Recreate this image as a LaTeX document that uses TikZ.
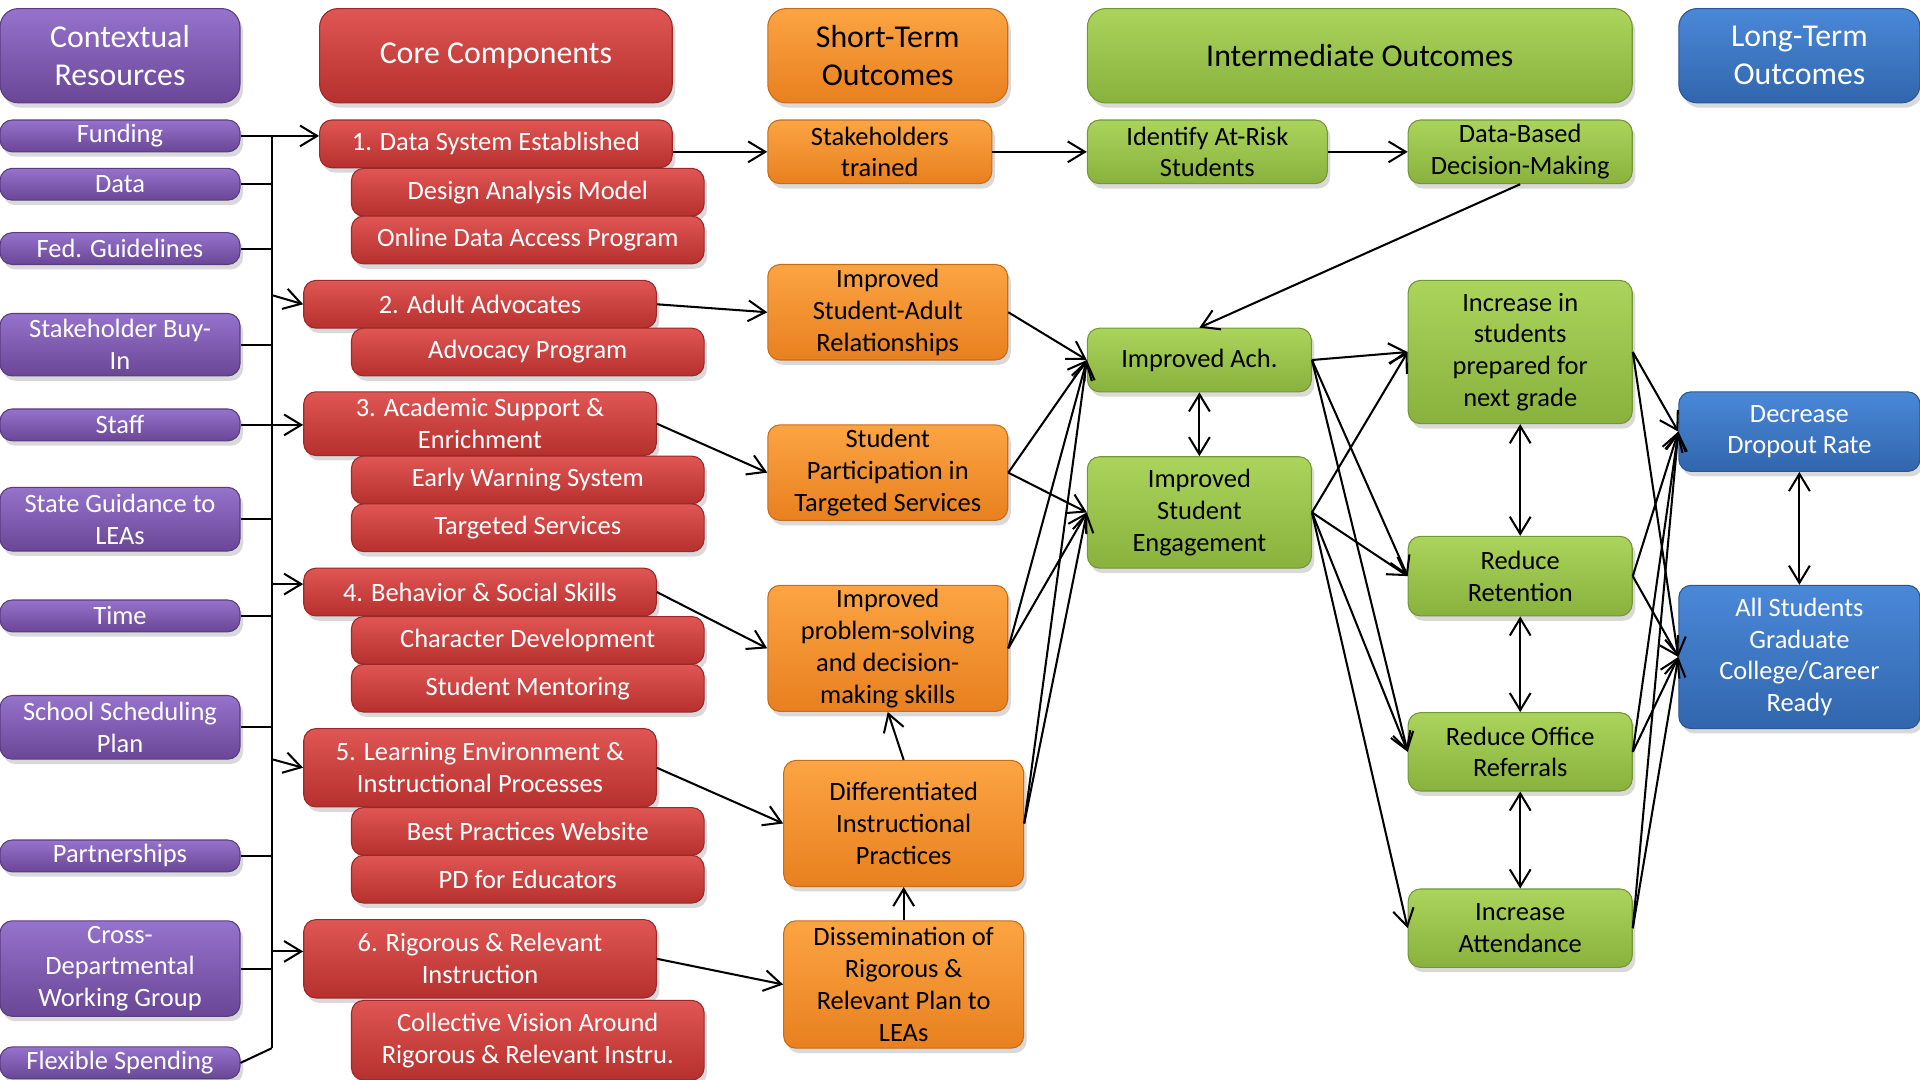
\documentclass[tikz,border=0pt]{standalone}
\usepackage{fontspec}
\setmainfont{Carlito}
\usetikzlibrary{arrows.meta}
\usetikzlibrary{shadows}
\usetikzlibrary{calc}

\definecolor{resTop}{HTML}{9673CC}
\definecolor{resBot}{HTML}{6A4696}
\definecolor{resEdge}{HTML}{5A3C80}
\definecolor{coreTop}{HTML}{E05654}
\definecolor{coreBot}{HTML}{B5302E}
\definecolor{coreEdge}{HTML}{9A2928}
\definecolor{shortTop}{HTML}{FCA443}
\definecolor{shortBot}{HTML}{E8801F}
\definecolor{shortEdge}{HTML}{C66C1A}
\definecolor{midTop}{HTML}{ABD45C}
\definecolor{midBot}{HTML}{88B23D}
\definecolor{midEdge}{HTML}{739637}
\definecolor{longTop}{HTML}{4A88D8}
\definecolor{longBot}{HTML}{3166AD}
\definecolor{longEdge}{HTML}{2A5794}

\tikzset{
    card/.style={rounded corners=0.2cm, inner sep=0pt, align=center, line width=0.5pt,
        font=\fontsize{12.3}{14.8}\selectfont,
        drop shadow={shadow xshift=0.05cm, shadow yshift=-0.08cm, opacity=0.3}},
    head/.style={minimum height=1.54cm, rounded corners=0.3cm,
        font=\fontsize{14.8}{17.6}\selectfont},
    resbox/.style={card, draw=resEdge, top color=resTop, bottom color=resBot,
        text=white, minimum width=3.92cm},
    corebox/.style={card, draw=coreEdge, top color=coreTop, bottom color=coreBot,
        text=white, minimum width=5.76cm},
    shortbox/.style={card, draw=shortEdge, top color=shortTop, bottom color=shortBot,
        minimum width=3.92cm},
    midbox/.style={card, draw=midEdge, top color=midTop, bottom color=midBot,
        minimum width=3.66cm},
    longbox/.style={card, draw=longEdge, top color=longTop, bottom color=longBot,
        text=white, minimum width=3.94cm},
}

\begin{document}
\begin{tikzpicture}[x=0.02cm, y=-0.02cm, line width=0.95pt,
    >={Straight Barb[length=0.28cm, width=0.34cm]}]
    \useasboundingbox (0,0) rectangle (1568,882);

    % Headers
    \node[resbox, head] (ctx) at (98,45.5) {Contextual\\Resources};
    \node[corebox, head] (core) at (405,45.5) {Core Components};
    \node[shortbox, head] (sth) at (725,45.5) {Short-Term\\Outcomes};
    \node[midbox, head, minimum width=8.9cm] (ith) at (1110.5,45.5) {Intermediate Outcomes};
    \node[longbox, head] (lth) at (1469.5,45.5) {Long-Term\\Outcomes};

    % Contextual resources
    \node[resbox, minimum height=0.52cm] (fund) at (98,111) {Funding};
    \node[resbox, minimum height=0.52cm] (data) at (98,150.5) {Data};
    \node[resbox, minimum height=0.52cm] (fed) at (98,203) {Fed. Guidelines};
    \node[resbox, minimum height=1.02cm] (buy) at (98,281.5) {Stakeholder Buy-\\In};
    \node[resbox, minimum height=0.52cm] (staff) at (98,347) {Staff};
    \node[resbox, minimum height=1.04cm] (sg) at (98,424) {State Guidance to\\LEAs};
    \node[resbox, minimum height=0.52cm] (time) at (98,503) {Time};
    \node[resbox, minimum height=1.04cm] (ssp) at (98,594) {School Scheduling\\Plan};
    \node[resbox, minimum height=0.52cm] (part) at (98,699) {Partnerships};
    \node[resbox, minimum height=1.56cm] (cdw) at (98,791) {Cross-\\Departmental\\Working Group};
    \node[resbox, minimum height=0.52cm] (flex) at (98,868) {Flexible Spending};

    % Core components
    \node[corebox, minimum height=0.78cm] (d1) at (405,117.5) {1. Data System Established};
    \node[corebox, minimum height=0.78cm] (dam) at (431,157) {Design Analysis Model};
    \node[corebox, minimum height=0.78cm] (odap) at (431,196) {Online Data Access Program};
    \node[corebox, minimum height=0.78cm] (c2) at (392,248.5) {2. Adult Advocates};
    \node[corebox, minimum height=0.78cm] (adv) at (431,287.5) {Advocacy Program};
    \node[corebox, minimum height=1.04cm] (c3) at (392,346) {3. Academic Support \&\\Enrichment};
    \node[corebox, minimum height=0.78cm] (ews) at (431,392) {Early Warning System};
    \node[corebox, minimum height=0.78cm] (tsv) at (431,431) {Targeted Services};
    \node[corebox, minimum height=0.78cm] (c4) at (392,483.5) {4. Behavior \& Social Skills};
    \node[corebox, minimum height=0.78cm] (chd) at (431,523) {Character Development};
    \node[corebox, minimum height=0.78cm] (smt) at (431,562) {Student Mentoring};
    \node[corebox, minimum height=1.28cm] (c5) at (392,627) {5. Learning Environment \&\\Instructional Processes};
    \node[corebox, minimum height=0.78cm] (bpw) at (431,679) {Best Practices Website};
    \node[corebox, minimum height=0.78cm] (pde) at (431,718) {PD for Educators};
    \node[corebox, minimum height=1.28cm] (c6) at (392,783) {6. Rigorous \& Relevant\\Instruction};
    \node[corebox, minimum height=1.30cm] (cva) at (431,849.5) {Collective Vision Around\\Rigorous \& Relevant Instru.};

    % Short-term outcomes
    \node[shortbox, minimum width=3.66cm, minimum height=1.04cm] (st) at (718.5,124) {Stakeholders\\trained};
    \node[shortbox, minimum height=1.56cm] (sar) at (725,255) {Improved\\Student-Adult\\Relationships};
    \node[shortbox, minimum height=1.56cm] (spt) at (725,386) {Student\\Participation in\\Targeted Services};
    \node[shortbox, minimum height=2.06cm] (ps) at (725,529.5) {Improved\\problem-solving\\and decision-\\making skills};
    \node[shortbox, minimum height=2.06cm] (dip) at (738,672.5) {Differentiated\\Instructional\\Practices};
    \node[shortbox, minimum height=2.08cm] (dis) at (738,804) {Dissemination of\\Rigorous \&\\Relevant Plan to\\LEAs};

    % Intermediate outcomes
    \node[midbox, minimum width=3.92cm, minimum height=1.04cm] (ide) at (986,124) {Identify At-Risk\\Students};
    \node[midbox, minimum height=1.04cm] (dbd) at (1241.5,124) {Data-Based\\Decision-Making};
    \node[midbox, minimum height=1.04cm] (ach) at (979.5,294) {Improved Ach.};
    \node[midbox, minimum height=1.82cm] (eng) at (979.5,418.5) {Improved\\Student\\Engagement};
    \node[midbox, minimum height=2.34cm] (inc) at (1241.5,287.5) {Increase in\\students\\prepared for\\next grade};
    \node[midbox, minimum height=1.30cm] (ret) at (1241.5,470.5) {Reduce\\Retention};
    \node[midbox, minimum height=1.28cm] (ror) at (1241.5,614) {Reduce Office\\Referrals};
    \node[midbox, minimum height=1.28cm] (att) at (1241.5,758) {Increase\\Attendance};

    % Long-term outcomes
    \node[longbox, minimum height=1.30cm] (drop) at (1469.5,352.5) {Decrease\\Dropout Rate};
    \node[longbox, minimum height=2.34cm] (grad) at (1469.5,536.5) {All Students\\Graduate\\College/Career\\Ready};

    % Resource bus
    \coordinate (bustop) at (222,111);
    \coordinate (busbot) at (222,856);
    \coordinate (tap2) at (222,241);
    \coordinate (tap4) at (222,477);
    \coordinate (tap5) at (222,620);
    \coordinate (tap6) at (222,777);
    \draw (bustop) -- (busbot);
    \draw (data.east) -- (data.east -| bustop);
    \draw (fed.east) -- (fed.east -| bustop);
    \draw (buy.east) -- (buy.east -| bustop);
    \draw (sg.east) -- (sg.east -| bustop);
    \draw (time.east) -- (time.east -| bustop);
    \draw (ssp.east) -- (ssp.east -| bustop);
    \draw (part.east) -- (part.east -| bustop);
    \draw (cdw.east) -- (cdw.east -| bustop);
    \draw (flex.east) -- (busbot);
    \draw[->] (fund.east) -- (fund.east -| d1.west);
    \draw[->] (tap2) -- (c2.west);
    \draw[->] (staff.east) -- (staff.east -| c3.west);
    \draw[->] (tap4) -- (tap4 -| c4.west);
    \draw[->] (tap5) -- (c5.west);
    \draw[->] (tap6) -- (tap6 -| c6.west);

    % Core -> short-term
    \draw[->] (st.west -| d1.east) -- (st.west);
    \draw[->] (c2.east) -- (sar.west);
    \draw[->] (c3.east) -- (spt.west);
    \draw[->] (c4.east) -- (ps.west);
    \draw[->] (c5.east) -- (dip.west);
    \draw[->] (c6.east) -- (dis.west);
    \draw[->] (dip.north) -- (ps.south);
    \draw[->] (dis.north) -- (dip.south);

    % Short-term -> intermediate
    \draw[->] (st.east) -- (ide.west);
    \draw[->] (ide.east) -- (dbd.west);
    \draw[->] (dbd.south) -- (ach.north);
    \draw[->] (sar.east) -- (ach.west);
    \draw[->] (spt.east) -- (ach.west);
    \draw[->] (spt.east) -- (eng.west);
    \draw[->] (ps.east) -- (ach.west);
    \draw[->] (ps.east) -- (eng.west);
    \draw[->] (dip.east) -- (ach.west);
    \draw[->] (dip.east) -- (eng.west);
    \draw[<->] (ach.south) -- (eng.north);

    % Intermediate fan
    \draw[->] (ach.east) -- (inc.west);
    \draw[->] (ach.east) -- (ret.west);
    \draw[->] (ach.east) -- (ror.west);
    \draw[->] (eng.east) -- (inc.west);
    \draw[->] (eng.east) -- (ret.west);
    \draw[->] (eng.east) -- (ror.west);
    \draw[->] (eng.east) -- (att.west);
    \draw[<->] (inc.south) -- (ret.north);
    \draw[<->] (ret.south) -- (ror.north);
    \draw[<->] (ror.south) -- (att.north);

    % Intermediate -> long-term
    \draw[->] (inc.east) -- (drop.west);
    \draw[->] (inc.east) -- (grad.west);
    \draw[->] (ret.east) -- (drop.west);
    \draw[->] (ret.east) -- (grad.west);
    \draw[->] (ror.east) -- (drop.west);
    \draw[->] (ror.east) -- (grad.west);
    \draw[->] (att.east) -- (drop.west);
    \draw[->] (att.east) -- (grad.west);
    \draw[<->] (drop.south) -- (grad.north);
\end{tikzpicture}
\end{document}
